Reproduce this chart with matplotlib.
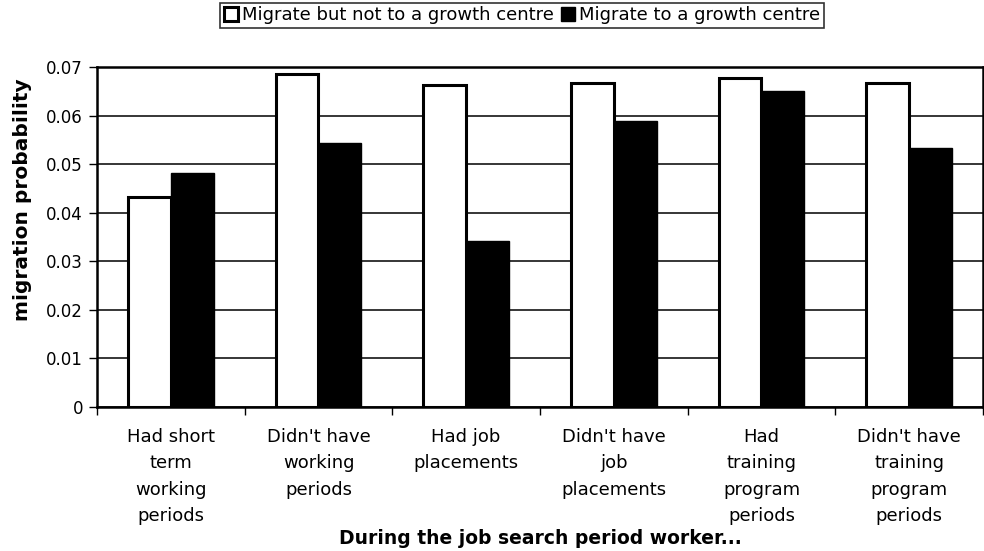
import numpy as np
import matplotlib.pyplot as plt

plt.rcParams['font.family'] = ['DejaVu Sans']

categories = [
    "Had short\nterm\nworking\nperiods",
    "Didn't have\nworking\nperiods",
    "Had job\nplacements",
    "Didn't have\njob\nplacements",
    "Had\ntraining\nprogram\nperiods",
    "Didn't have\ntraining\nprogram\nperiods",
]
not_growth = [0.0432, 0.0686, 0.0662, 0.0668, 0.0678, 0.0667]
to_growth = [0.0482, 0.0544, 0.0341, 0.0588, 0.0650, 0.0533]
yticks = [0, 0.01, 0.02, 0.03, 0.04, 0.05, 0.06, 0.07]

W, H = 984, 551
fig = plt.figure(figsize=(W / 100, H / 100), dpi=100)
ax = fig.add_axes([97 / W, 1 - 407 / H, 886 / W, 340 / H])

x = np.arange(len(categories))
w = 0.29
ax.bar(x - w / 2, not_growth, w, color="white", edgecolor="black", linewidth=2.2,
       label="Migrate but not to a growth centre", zorder=3)
ax.bar(x + w / 2, to_growth, w, color="black", edgecolor="black", linewidth=1,
       label="Migrate to a growth centre", zorder=3)

ax.set_xlim(-0.5, len(categories) - 0.5)
ax.set_ylim(0, 0.07)
ax.set_yticks(yticks)
ax.set_yticklabels(["0"] + ["%.2f" % v for v in yticks[1:]])
ax.yaxis.grid(True, color="black", linewidth=1.1)
ax.set_axisbelow(True)

ax.set_xticks(x)
ax.set_xticklabels(categories, linespacing=1.6, va="top")
ax.set_xticks(np.arange(len(categories) + 1) - 0.5, minor=True)
ax.tick_params(axis="x", which="major", length=0, pad=15, labelsize=13)
ax.tick_params(axis="x", which="minor", length=6, width=1, direction="out")
ax.tick_params(axis="y", length=6, width=1, labelsize=12, pad=4)

for s in ["left", "bottom", "top", "right"]:
    ax.spines[s].set_linewidth(1.8)
    ax.spines[s].set_color("black")

# axis titles placed where the reference puts them
fig.text(23 / W, 1 - 200 / H, "migration probability", rotation=90,
         fontsize=14.5, fontweight="bold", ha="center", va="center")
fig.text(540 / W, 1 - 539 / H, "During the job search period worker...",
         fontsize=13.5, fontweight="bold", ha="center", va="center")

leg = fig.legend(loc="upper center", bbox_to_anchor=(522 / W, 1.0), ncol=2,
                 frameon=True, fancybox=False, edgecolor="black",
                 fontsize=13, handlelength=0.8, handleheight=0.8,
                 handletextpad=0.2, columnspacing=0.4, borderpad=0.2,
                 borderaxespad=0.15)
leg.get_frame().set_linewidth(1.2)

fig.savefig("out.png", dpi=100)
